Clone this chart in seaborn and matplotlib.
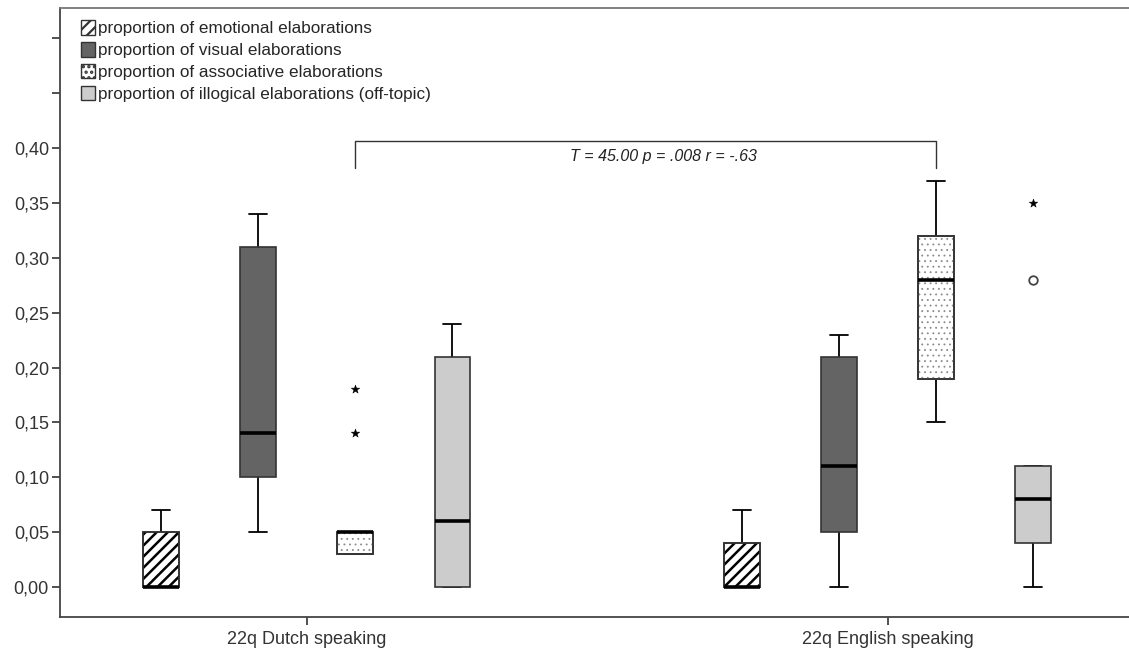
import numpy as np
import pandas as pd
import matplotlib
matplotlib.use("Agg")
import matplotlib.pyplot as plt
from matplotlib.patches import Patch, PathPatch
from matplotlib.ticker import FuncFormatter
import seaborn as sns

groups = ["22q Dutch speaking", "22q English speaking"]
measures = ["proportion of emotional elaborations",
            "proportion of visual elaborations",
            "proportion of associative elaborations",
            "proportion of illogical elaborations (off-topic)"]

# raw proportions per participant, read back from the box summaries
dutch_emotional = [0, 0, 0, 0, 0, 0.02, 0.05, 0.06, 0.07]
dutch_visual = [0.05, 0.08, 0.10, 0.12, 0.14, 0.22, 0.31, 0.33, 0.34]
dutch_associative = [0.03, 0.03, 0.03, 0.03, 0.04, 0.05, 0.05, 0.05, 0.05, 0.14, 0.18]
dutch_illogical = [0, 0, 0, 0.03, 0.06, 0.12, 0.21, 0.23, 0.24]

english_emotional = [0, 0, 0, 0, 0, 0.02, 0.04, 0.05, 0.07]
english_visual = [0, 0.03, 0.05, 0.08, 0.11, 0.16, 0.21, 0.22, 0.23]
english_associative = [0.15, 0.17, 0.19, 0.24, 0.28, 0.30, 0.32, 0.35, 0.37]
english_illogical = [0, 0.02, 0.04, 0.04, 0.06, 0.08, 0.09, 0.11, 0.11, 0.28, 0.35]

test_label = "T = 45.00 p = .008 r = -.63"

series = {
    (groups[0], measures[0]): dutch_emotional,
    (groups[0], measures[1]): dutch_visual,
    (groups[0], measures[2]): dutch_associative,
    (groups[0], measures[3]): dutch_illogical,
    (groups[1], measures[0]): english_emotional,
    (groups[1], measures[1]): english_visual,
    (groups[1], measures[2]): english_associative,
    (groups[1], measures[3]): english_illogical,
}
rows = []
for (g, m), vals in series.items():
    for v in vals:
        rows.append({"group": g, "measure": m, "value": v})
df = pd.DataFrame(rows)

sns.set_style("ticks")
plt.rcParams['font.family'] = ['Liberation Sans', 'DejaVu Sans']
plt.rcParams['hatch.linewidth'] = 1.6

colors = {measures[0]: "white", measures[1]: "#646464",
          measures[2]: "white", measures[3]: "#cccccc"}
hatches = {0: ("///", "black", 1.8), 2: ("...", "#8a8a8a", 0.6)}

fig = plt.figure(figsize=(11.29, 6.55), dpi=100)
ax = fig.add_axes([60 / 1129, 1 - 617 / 655, 1 - 60 / 1129, 609 / 655])

W = 0.668
sns.boxplot(data=df, x="group", y="value", hue="measure", order=groups,
            hue_order=measures, palette=colors, saturation=1, width=W, gap=0.63,
            showfliers=False, linewidth=1.2, linecolor="#333333",
            medianprops=dict(color="black", linewidth=2.6, zorder=4),
            whiskerprops=dict(color="black", linewidth=1.3, zorder=1.5),
            capprops=dict(color="black", linewidth=1.3, zorder=1.5),
            legend=False, ax=ax)

slot = W / len(measures)

# hatch overlays on the boxes
for p in list(ax.patches):
    xs = p.get_path().vertices[:, 0]
    xc = (xs.min() + xs.max()) / 2
    k = int(round((xc - round(xc)) / slot + 1.5))
    if k in hatches:
        h, c, lw = hatches[k]
        with plt.rc_context({'hatch.linewidth': lw}):
            ov = PathPatch(p.get_path(), facecolor="none", edgecolor=c, hatch=h,
                           linewidth=0, zorder=p.get_zorder() + 0.1)
        ax.add_patch(ov)
        edge = PathPatch(p.get_path(), facecolor="none", edgecolor="#333333",
                         linewidth=1.2, zorder=p.get_zorder() + 0.2)
        ax.add_patch(edge)

# outliers: circles (mild) and stars (extreme), SPSS style
mild, extreme = [], []
for (g, m), vals in series.items():
    arr = np.array(vals)
    q1, q3 = np.percentile(arr, [25, 75])
    iqr = q3 - q1
    xpos = groups.index(g) + (measures.index(m) - 1.5) * slot
    for v in arr:
        if v > q3 + 3 * iqr or v < q1 - 3 * iqr:
            extreme.append({"x": xpos, "value": v})
        elif v > q3 + 1.5 * iqr or v < q1 - 1.5 * iqr:
            mild.append({"x": xpos, "value": v})
if extreme:
    sns.scatterplot(data=pd.DataFrame(extreme), x="x", y="value", marker="*",
                    s=40, color="black", edgecolor="black", linewidth=0.4,
                    legend=False, ax=ax, zorder=5)
if mild:
    sns.scatterplot(data=pd.DataFrame(mild), x="x", y="value", marker="o",
                    s=38, facecolor="white", edgecolor="#444444", linewidth=1.3,
                    legend=False, ax=ax, zorder=5)

# significance bracket between associative boxes
xa = 0 + 0.5 * slot
xb = 1 + 0.5 * slot
ax.plot([xa, xa, xb, xb], [0.382, 0.4065, 0.4065, 0.382], color="#333333", lw=1.0)
ax.text((xa + xb) / 2 + 0.03, 0.392, test_label, ha="center", va="center",
        fontsize=11.5, style="italic", color="#222222")

ax.set_xlim(-0.425, 1.415)
ax.set_ylim(-0.0273, 0.5276)
yt = [i * 0.05 for i in range(11)]
ax.set_yticks(yt)
ax.yaxis.set_major_formatter(FuncFormatter(
    lambda v, _: "" if v > 0.41 else f"{v:.2f}".replace(".", ",")))
ax.set_xticks([0, 1])
ax.set_xticklabels(groups)
ax.set_xlabel("")
ax.set_ylabel("")
ax.tick_params(axis="both", labelsize=13, colors="#333333", length=6, width=1.2)
ax.tick_params(axis="y", pad=2)
ax.tick_params(axis="x", pad=4)
ax.spines["right"].set_visible(False)
for s in ["left", "bottom"]:
    ax.spines[s].set_color("#444444")
    ax.spines[s].set_linewidth(1.3)
ax.spines["top"].set_color("#777777")
ax.spines["top"].set_linewidth(1.3)

handles = []
for i, m in enumerate(measures):
    h, c, lw = hatches.get(i, (None, "black", 1.0))
    with plt.rc_context({'hatch.linewidth': lw}):
        handles.append(Patch(facecolor=colors[m], edgecolor="#333333", hatch=h,
                             linewidth=1.0, label=m))
ax.legend(handles=handles, loc="upper left", frameon=False, fontsize=12.3,
          handlelength=0.85, handleheight=0.95, handletextpad=0.2,
          labelspacing=0.33, borderaxespad=0.3, bbox_to_anchor=(0.008, 1.0))

fig.savefig("out.png", dpi=100)
